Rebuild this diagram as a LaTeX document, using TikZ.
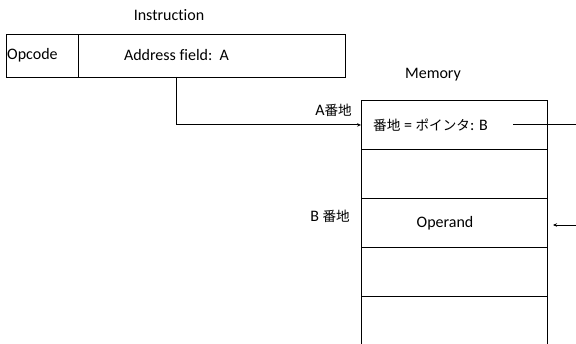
\documentclass[tikz,border=0pt]{standalone}
\usepackage{fontspec}
\setmainfont{Carlito}[Ligatures=NoCommon]
\newfontfamily\jp{Noto Sans CJK JP}[Scale=0.85]
\usetikzlibrary{arrows.meta}
\begin{document}
\begin{tikzpicture}[x=1pt,y=-1pt,
  box/.style={draw,line width=0.9pt,inner sep=0pt,anchor=north west},
  lbl/.style={inner sep=0pt,font=\fontsize{16}{18}\selectfont},
  conn/.style={line width=0.9pt},
  arr/.style={conn,-{Stealth[length=4pt,width=3.5pt]}}]
\useasboundingbox (0,0) rectangle (576,344);
\clip (0,0) rectangle (576,344);
% instruction
\node[box,minimum width=72pt,minimum height=43pt] (opc) at (6,34) {};
\node[lbl,anchor=west] (opct) at (7,55.5) {Opcode};
\node[box,minimum width=267pt,minimum height=43pt] (addr) at (78,34) {};
\node[lbl] (addrt) at (176.5,55.5) {Address field:\ \ A};
\node[lbl] (instr) at (169,15.5) {Instruction};
% memory
\node[lbl] (memt) at (433,75) {Memory};
\node[box,minimum width=186pt,minimum height=49pt] (c1) at (361,100) {};
\node[box,minimum width=186pt,minimum height=49pt] (c2) at (361,149) {};
\node[box,minimum width=186pt,minimum height=49pt] (c3) at (361,198) {};
\node[box,minimum width=186pt,minimum height=49pt] (c4) at (361,247) {};
\node[box,minimum width=186pt,minimum height=52pt] (c5) at (361,296) {};
\node[lbl,anchor=west] (ptr) at (373,125) {{\jp 番地} = {\jp ポインタ}: B};
\node[lbl] (opd) at (445,223) {Operand};
\node[lbl,anchor=east] (aaddr) at (352,110) {A{\jp 番地}};
\node[lbl,anchor=east] (baddr) at (350,216) {B {\jp 番地}};
% connectors
\coordinate (pa) at (176,77);
\draw[arr] (pa) |- (c1.west);
\coordinate (r1s) at (513,124.5);
\coordinate (r1e) at (576,124.5);
\draw[conn] (r1s) -- (r1e);
\coordinate (r2s) at (576,225);
\coordinate (r2e) at (553,225);
\draw[arr] (r2s) -- (r2e);
\end{tikzpicture}
\end{document}
